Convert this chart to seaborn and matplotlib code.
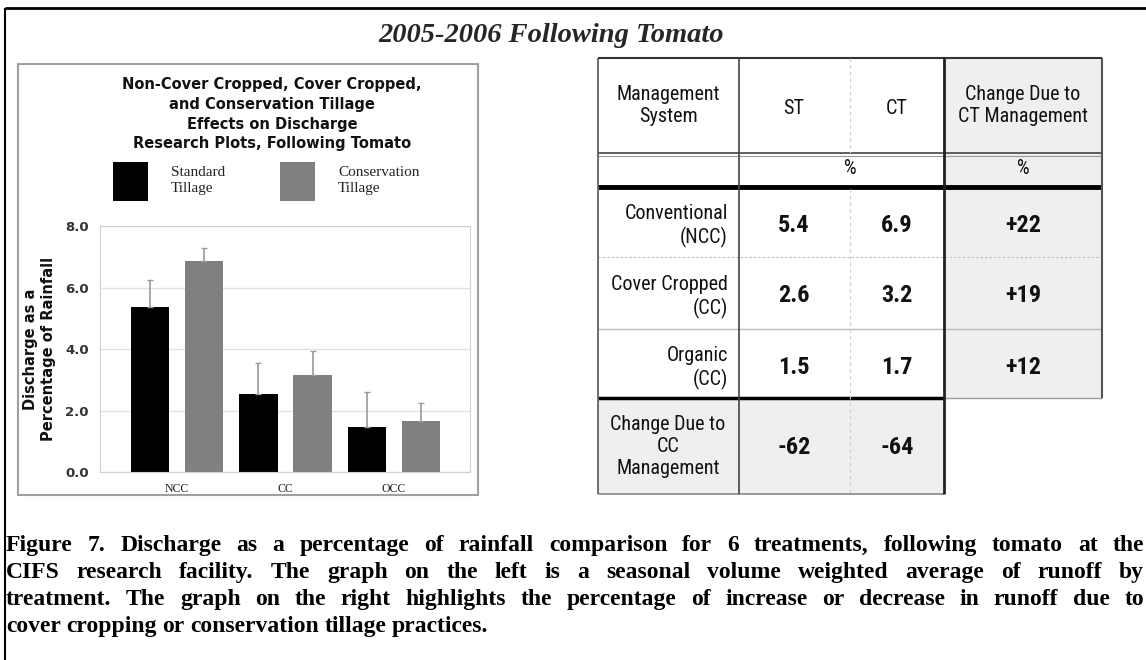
import matplotlib
matplotlib.use("Agg")
import matplotlib.pyplot as plt
from matplotlib import font_manager
from matplotlib.patches import Rectangle
import seaborn as sns
import pandas as pd
import numpy as np

# bar chart values
groups = ["NCC", "CC", "OCC"]
tillage = ["Standard Tillage", "Conservation Tillage"]
st_values = [5.35, 2.55, 1.45]
ct_values = [6.85, 3.15, 1.65]
st_err_top = [6.25, 3.55, 2.6]
ct_err_top = [7.3, 3.95, 2.25]
y_ticks = [0, 2, 4, 6, 8]

# table values
tbl_rows = ["Conventional\n(NCC)", "Cover Cropped\n(CC)", "Organic\n(CC)"]
tbl_st = ["5.4", "2.6", "1.5"]
tbl_ct = ["6.9", "3.2", "1.7"]
tbl_ct_change = ["+22", "+19", "+12"]
tbl_cc_change = ["-62", "-64"]

chart_title = ["Non-Cover Cropped, Cover Cropped,",
               "and Conservation Tillage",
               "Effects on Discharge",
               "Research Plots, Following Tomato"]
caption = [
    "Figure 7.  Discharge as a percentage of rainfall comparison for 6 treatments, following tomato at the",
    "CIFS research facility.  The graph on the left is a seasonal volume weighted average of runoff by",
    "treatment.  The graph on the right highlights the percentage of increase or decrease in runoff due to",
    "cover cropping or conservation tillage practices.",
]

df = pd.DataFrame({
    "group": groups * 2,
    "tillage": [tillage[0]] * 3 + [tillage[1]] * 3,
    "value": st_values + ct_values,
})

sns.set_style("white")
plt.rcParams["font.family"] = ["DejaVu Sans"]

# narrow sans for the table if there is one
installed = {f.name for f in font_manager.fontManager.ttflist}
narrow_opts = ["Liberation Sans Narrow", "Roboto Condensed", "Open Sans Condensed",
               "Noto Sans Condensed", "DejaVu Sans Condensed"]
found = [n for n in narrow_opts if n in installed]
tstretch = "normal"
if found:
    narrow, hsize, vsize = found[0], 14.5, 17.5
elif any(f.name == "DejaVu Sans" and f.stretch == "condensed"
         for f in font_manager.fontManager.ttflist):
    narrow, hsize, vsize, tstretch = "DejaVu Sans", 13.5, 16, "condensed"
else:
    narrow, hsize, vsize = "Liberation Sans", 13.5, 16

W, H = 1146, 660
fig = plt.figure(figsize=(W / 100, H / 100), dpi=100)


def fbox(x0, y0, x1, y1):
    return [x0 / W, 1 - y1 / H, (x1 - x0) / W, (y1 - y0) / H]


# overlay in pixel coordinates for frame, table and text
ov = fig.add_axes([0, 0, 1, 1], zorder=0)
ov.set_xlim(0, W)
ov.set_ylim(H, 0)
ov.axis("off")


def hline(x0, x1, y, c, lw, **kw):
    ov.plot([x0, x1], [y, y], color=c, lw=lw, solid_capstyle="butt", **kw)


def vline(x, y0, y1, c, lw, **kw):
    ov.plot([x, x], [y0, y1], color=c, lw=lw, solid_capstyle="butt", **kw)


# page frame
hline(5, W, 8, "black", 2)
vline(5, 8, H, "black", 1.5)

ov.text(551, 36, "2005-2006 Following Tomato", ha="center", va="center",
        family="Liberation Serif", weight="bold", style="italic", fontsize=20.5)

# chart panel
ov.add_patch(Rectangle((18, 64), 460, 431, fill=False, ec="#a0a0a0", lw=1.5))
for i, t in enumerate(chart_title):
    ov.text(272, 85 + i * 19.5, t, ha="center", va="center",
            weight="bold", fontsize=10.5, color="#111")

ax = fig.add_axes(fbox(100, 226, 470, 472), zorder=1)
sns.barplot(data=df, x="group", y="value", hue="tillage", order=groups,
            hue_order=tillage, palette=["black", "#808080"], saturation=1,
            width=1.0, gap=0.29, linewidth=0, errorbar=None, legend=False, ax=ax)

for cont, tops in zip(ax.containers, [st_err_top, ct_err_top]):
    xs = [p.get_x() + p.get_width() / 2 for p in cont]
    hs = np.array([p.get_height() for p in cont])
    ax.errorbar(xs, hs, yerr=[np.zeros(len(hs)), np.array(tops) - hs],
                fmt="none", ecolor="#9a9a9a", elinewidth=1.2, capsize=2)

ax.set_ylim(0, 8)
ax.set_xlim(-0.71, 2.70)
ax.set_yticks(y_ticks)
ax.set_yticklabels([f"{v:.1f}" for v in y_ticks], weight="bold", fontsize=9.5,
                   color="#333")
ax.set_xticks(range(len(groups)))
ax.set_xticklabels(groups, family="Liberation Serif", fontsize=8.5, color="#222")
ax.set_xticks([-0.5, 0.5, 1.5, 2.5], minor=True)
ax.tick_params(axis="x", which="major", length=0, pad=8)
ax.tick_params(axis="x", which="minor", length=14, width=1, color="#999999",
               direction="out")
ax.tick_params(axis="y", length=0, pad=8)
ax.grid(axis="y", color="#e2e2e2", lw=1)
ax.set_axisbelow(True)
for s in ax.spines.values():
    s.set_color("#cfcfcf")
ax.set_xlabel("")
ax.set_ylabel("Discharge as a\nPercentage of Rainfall", weight="bold",
              fontsize=10.5, color="#111")
ax.yaxis.set_label_coords(-0.12, 0.5)

leg = ax.legend([ax.containers[0][0], ax.containers[1][0]],
                ["Standard\nTillage", "Conservation\nTillage"],
                ncol=2, frameon=False, loc="upper left",
                bbox_to_anchor=(113 / W, 1 - 162 / H),
                bbox_transform=fig.transFigure, borderpad=0, borderaxespad=0,
                handlelength=2.3, handleheight=3.6, handletextpad=1.5,
                columnspacing=3.6, prop={"family": "Liberation Serif", "size": 11})
for t in leg.get_texts():
    t.set_linespacing(1.3)
    t.set_color("#222")

# table
ov.add_patch(Rectangle((944, 58), 158, 340, fc="#efefef", ec="none"))
ov.add_patch(Rectangle((598, 398), 346, 96, fc="#efefef", ec="none"))
hline(598, 1102, 58, "#333", 1.5)
hline(598, 1102, 153, "#444", 1.2)
hline(598, 1102, 156, "#999", 0.8)
hline(598, 1102, 187, "black", 3.5)
hline(598, 1102, 257, "#bbbbbb", 0.8, ls=(0, (2, 2)))
hline(598, 1102, 329, "#bbbbbb", 1)
hline(944, 1102, 398, "#999999", 1)
hline(598, 944, 398, "black", 2.5)
hline(598, 944, 494, "#888888", 1.2)
vline(850, 58, 153, "#cccccc", 0.8, ls=(0, (3, 3)))
vline(850, 189, 494, "#cccccc", 0.8, ls=(0, (3, 3)))
vline(598, 58, 494, "#555", 1.2)
vline(739, 58, 494, "#444", 1.2)
vline(944, 58, 494, "#222", 2)
vline(1102, 58, 398, "#555", 1.5)

tk = dict(family=narrow, fontsize=hsize, color="#111", va="center",
          linespacing=1.2, fontstretch=tstretch)
vk = dict(family=narrow, fontsize=vsize, color="#111", va="center",
          ha="center", weight="bold", fontstretch=tstretch)
ov.text(668, 106, "Management\nSystem", ha="center", **tk)
ov.text(794, 108, "ST", ha="center", **tk)
ov.text(897, 108, "CT", ha="center", **tk)
ov.text(1023, 106, "Change Due to\nCT Management", ha="center", **tk)
ov.text(850, 169, "%", ha="center", **tk)
ov.text(1023, 169, "%", ha="center", **tk)

row_y = [226, 297, 368]
for lab, s, c, d, y in zip(tbl_rows, tbl_st, tbl_ct, tbl_ct_change, row_y):
    ov.text(728, y, lab, ha="right", multialignment="right", **tk)
    ov.text(794, y - 1, s, **vk)
    ov.text(897, y - 1, c, **vk)
    ov.text(1023, y - 1, d, **vk)

ov.text(668, 447, "Change Due to\nCC\nManagement", ha="center", **tk)
ov.text(794, 447, tbl_cc_change[0], **vk)
ov.text(897, 447, tbl_cc_change[1], **vk)

# caption, justified to the page width
cap_kw = dict(family="Liberation Serif", weight="bold", fontsize=17,
              va="baseline", color="black")
cap_base = [551, 578, 605, 632]
x0, x1 = 6, 1144
fig.canvas.draw()
rend = fig.canvas.get_renderer()
for i, (line, yb) in enumerate(zip(caption, cap_base)):
    words = line.split()
    arts = [ov.text(0, yb, w, **cap_kw) for w in words]
    widths = [a.get_window_extent(rend).width for a in arts]
    if i < len(caption) - 1:
        gap = (x1 - x0 - sum(widths)) / (len(words) - 1)
    else:
        gap = 5.5
    x = x0
    for a, w in zip(arts, widths):
        a.set_x(x)
        x += w + gap

fig.savefig("out.png", dpi=100)
